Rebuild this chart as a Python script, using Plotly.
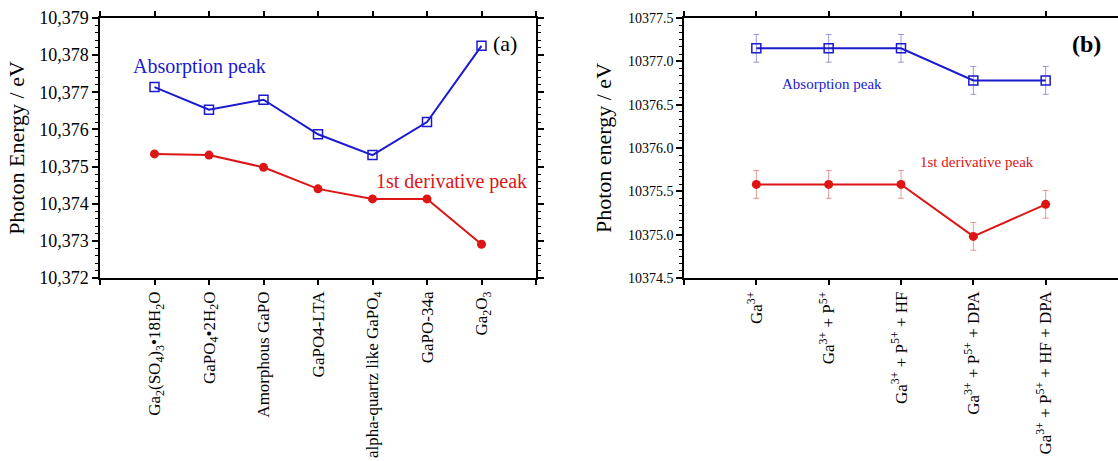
import plotly.graph_objects as go

# ---------- data ----------
cats_a = ["Ga<sub>2</sub>(SO<sub>4</sub>)<sub>3</sub>•18H<sub>2</sub>O",
          "GaPO<sub>4</sub>•2H<sub>2</sub>O",
          "Amorphous GaPO",
          "GaPO4-LTA",
          "alpha-quartz like GaPO<sub>4</sub>",
          "GaPO-34a",
          "Ga<sub>2</sub>O<sub>3</sub>"]
abs_a = [10377.14, 10376.53, 10376.80, 10375.87, 10375.31, 10376.20, 10378.25]
der_a = [10375.34, 10375.31, 10374.98, 10374.40, 10374.13, 10374.13, 10372.91]

cats_b = ["Ga<sup>3+</sup>",
          "Ga<sup>3+</sup> + P<sup>5+</sup>",
          "Ga<sup>3+</sup> + P<sup>5+</sup> + HF",
          "Ga<sup>3+</sup> + P<sup>5+</sup> + DPA",
          "Ga<sup>3+</sup> + P<sup>5+</sup> + HF + DPA"]
abs_b = [10377.15, 10377.15, 10377.15, 10376.78, 10376.78]
abs_b_err = [0.16, 0.16, 0.16, 0.16, 0.16]
der_b = [10375.58, 10375.58, 10375.58, 10374.98, 10375.35]
der_b_err = [0.16, 0.16, 0.16, 0.16, 0.16]

FONT = "Liberation Serif"
BLUE = "#1a1ad0"
RED = "#dd1515"
W, H = 1118, 461

fig = go.Figure()

xa = list(range(len(cats_a)))
xb = list(range(len(cats_b)))

fig.add_trace(go.Scatter(x=xa, y=abs_a, mode="lines+markers", xaxis="x", yaxis="y",
                         line=dict(color=BLUE, width=2),
                         marker=dict(symbol="square-open", size=9, color=BLUE, line=dict(width=1.5)),
                         showlegend=False))
fig.add_trace(go.Scatter(x=xa, y=der_a, mode="lines+markers", xaxis="x", yaxis="y",
                         line=dict(color=RED, width=2),
                         marker=dict(symbol="circle", size=9, color=RED),
                         showlegend=False))

fig.add_trace(go.Scatter(x=xb, y=abs_b, mode="lines+markers", xaxis="x2", yaxis="y2",
                         line=dict(color=BLUE, width=2),
                         marker=dict(symbol="square-open", size=9, color=BLUE, line=dict(width=1.5)),
                         error_y=dict(type="data", array=abs_b_err, color="rgba(90,90,200,0.6)",
                                      thickness=1, width=3),
                         showlegend=False))
fig.add_trace(go.Scatter(x=xb, y=der_b, mode="lines+markers", xaxis="x2", yaxis="y2",
                         line=dict(color=RED, width=2),
                         marker=dict(symbol="circle", size=9, color=RED),
                         error_y=dict(type="data", array=der_b_err, color="rgba(210,90,90,0.6)",
                                      thickness=1, width=3),
                         showlegend=False))

y0, y1 = 1 - 278 / H, 1 - 18 / H

common_x = dict(showline=True, linecolor="black", linewidth=1.5, mirror="ticks",
                ticks="outside", ticklen=5, tickcolor="black", tickwidth=1.5,
                showgrid=False, zeroline=False, tickangle=-90, automargin=False,
                tickfont=dict(family=FONT, size=17, color="black"))
common_y = dict(showline=True, linecolor="black", linewidth=1.5, mirror="ticks",
                ticks="outside", ticklen=6, tickcolor="black", tickwidth=1.5,
                showgrid=False, zeroline=False, automargin=False)

fig.update_layout(
    width=W, height=H,
    margin=dict(l=0, r=0, t=0, b=0),
    paper_bgcolor="white", plot_bgcolor="white",
    xaxis=dict(domain=[100 / W, 536 / W], range=[-1, 7],
               tickvals=[-1] + xa + [7], ticktext=[""] + cats_a + [""],
               anchor="y", **common_x),
    yaxis=dict(domain=[y0, y1], range=[10372, 10379], dtick=1, tickformat=",.0f",
               anchor="x",
               tickfont=dict(family=FONT, size=18, color="black"),
               minor=dict(dtick=0.2, ticks="outside", ticklen=3, tickcolor="black", tickwidth=1),
               title=dict(text="Photon Energy / eV", font=dict(family=FONT, size=22, color="black"),
                          standoff=8),
               **common_y),
    xaxis2=dict(domain=[684 / W, 1.0], range=[-1, 5],
                tickvals=[-1] + xb, ticktext=[""] + cats_b,
                anchor="y2", **common_x),
    yaxis2=dict(domain=[y0, y1], range=[10374.5, 10377.5], dtick=0.5, tickformat=".1f",
                anchor="x2",
                tickfont=dict(family=FONT, size=14, color="black"),
                minor=dict(dtick=0.5 / 6, tick0=10374.5, ticks="outside", ticklen=3,
                           tickcolor="black", tickwidth=1),
                title=dict(text="Photon energy / eV", font=dict(family=FONT, size=22, color="black"),
                           standoff=10),
                **common_y),
)

annots = [
    dict(text="Absorption peak", x=199, y=67, size=20, color=BLUE),
    dict(text="1st derivative peak", x=451, y=181, size=20, color=RED),
    dict(text="(a)", x=505, y=44, size=22, color="black"),
    dict(text="Absorption peak", x=832, y=84, size=15, color=BLUE),
    dict(text="1st derivative peak", x=977, y=162, size=15, color=RED),
    dict(text="<b>(b)</b>", x=1086, y=44, size=24, color="black"),
]
for a in annots:
    fig.add_annotation(text=a["text"], xref="paper", yref="paper",
                       x=a["x"] / W, y=1 - a["y"] / H, xanchor="center", yanchor="middle",
                       showarrow=False, font=dict(family=FONT, size=a["size"], color=a["color"]))

fig.write_html("out.html", config={"displayModeBar": False},
               post_script="document.body.style.margin='0px';document.documentElement.style.overflow='hidden';")
